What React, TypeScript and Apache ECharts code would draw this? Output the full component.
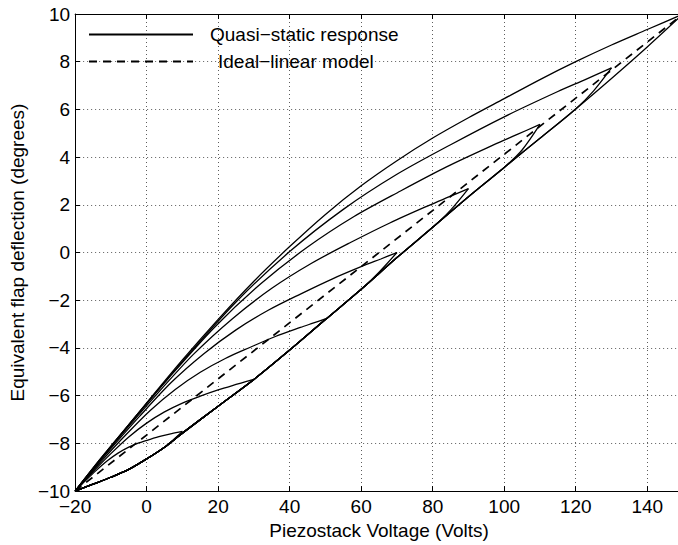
import React, { useEffect, useRef } from 'react';
import * as echarts from 'echarts';

// Common ascending (virgin) branch shared by every loop
const ascendVoltage = [-20, -15, -10, -5, 0, 5, 10, 20, 30, 40, 50, 60, 70, 80, 90, 100, 110, 120, 130, 140, 150];
const ascendDeflection = [-10, -9.71, -9.42, -9.09, -8.65, -8.16, -7.57, -6.44, -5.32, -4.09, -2.81, -1.54, -0.21, 1.06, 2.34, 3.57, 4.79, 6.02, 7.3, 8.62, 10];

// Loop tips
const peakVoltage = [10, 30, 50, 70, 90, 110, 130, 150];
const peakDeflection = [-7.5, -5.32, -2.78, 0.0, 2.68, 5.37, 7.74, 10];

// Small hook just before the tip of the larger loops
const hookVoltage = [NaN, NaN, NaN, 65, 85, 105, 125, NaN];
const hookDeflection = [NaN, NaN, NaN, -0.82, 1.78, 4.3, 6.78, NaN];

// Descending branches (tip back to -20 V)
const descending10 = [[10, -7.5], [7, -7.59], [4, -7.7], [1, -7.83], [-2, -7.97], [-5, -8.16], [-8, -8.41], [-11, -8.73], [-14, -9.12], [-17, -9.55], [-20, -10]];
const descending30 = [[30, -5.32], [27.5, -5.42], [25, -5.53], [20, -5.76], [15, -6.02], [10, -6.31], [5, -6.68], [0, -7.15], [-5, -7.73], [-10, -8.43], [-15, -9.19], [-20, -10]];
const descending50 = [[50, -2.78], [46.5, -2.96], [43, -3.14], [36, -3.52], [29, -3.97], [22, -4.44], [15, -5.02], [8, -5.74], [1, -6.62], [-6, -7.67], [-13, -8.8], [-16.5, -9.39], [-20, -10]];
const descending70 = [[70, 0], [65.5, -0.27], [61, -0.53], [52, -1.1], [43, -1.74], [34, -2.42], [25, -3.24], [16, -4.24], [7, -5.43], [-2, -6.87], [-11, -8.39], [-15.5, -9.18], [-20, -10]];
const descending90 = [[90, 2.68], [84.5, 2.33], [79, 1.98], [68, 1.24], [57, 0.42], [46, -0.46], [35, -1.5], [24, -2.77], [13, -4.28], [2, -6.08], [-9, -7.98], [-14.5, -8.97], [-20, -10]];
const descending110 = [[110, 5.37], [103.5, 4.94], [97, 4.51], [84, 3.6], [71, 2.58], [58, 1.51], [45, 0.23], [32, -1.3], [19, -3.13], [6, -5.29], [-7, -7.58], [-13.5, -8.76], [-20, -10]];
const descending130 = [[130, 7.74], [122.5, 7.24], [115, 6.75], [100, 5.69], [85, 4.52], [70, 3.28], [55, 1.81], [40, 0.04], [25, -2.07], [10, -4.56], [-5, -7.21], [-12.5, -8.57], [-20, -10]];
const descending150 = [[150, 10], [140, 9.35], [130, 8.7], [120, 8.0], [110, 7.25], [100, 6.45], [90, 5.65], [80, 4.8], [70, 3.85], [60, 2.8], [50, 1.6], [40, 0.25], [30, -1.2], [20, -2.8], [10, -4.5], [0, -6.3], [-10, -8.15], [-20, -10]];
const descendingBranches = [descending10, descending30, descending50, descending70, descending90, descending110, descending130, descending150];

// Ideal-linear model
const linearVoltage = [-20, 150];
const linearDeflection = [-10, 10];

const QUASI = 'Quasi\u2212static response';
const IDEAL = 'Ideal\u2212linear model';
const FONT = "'Liberation Sans', Arial, Helvetica, sans-serif";

const fmt = (v: number) => (v < 0 ? '\u2212' + Math.abs(v) : String(v));

export default function App() {
  const ref = useRef<HTMLDivElement>(null);
  useEffect(() => {
    document.body.style.margin = '0';
    document.body.style.overflow = 'hidden';
    if (!ref.current) return;
    const chart = echarts.init(ref.current, undefined, { renderer: 'svg' });

    const lineStyle = { color: '#000', width: 1.3, type: 'solid' as const };
    const itemStyle = { color: '#000' };
    const series: any[] = [];
    peakVoltage.forEach((vm, i) => {
      const hx = hookVoltage[i];
      const limit = isNaN(hx) ? vm : hx;
      const asc: number[][] = [];
      ascendVoltage.forEach((x, j) => {
        if (x < limit) asc.push([x, ascendDeflection[j]]);
      });
      if (!isNaN(hx)) asc.push([hx, hookDeflection[i]]);
      asc.push([vm, peakDeflection[i]]);
      series.push({
        name: QUASI, type: 'line', data: asc, symbol: 'none', showSymbol: false,
        smooth: 0.3, lineStyle, itemStyle, z: 3,
      });
      series.push({
        name: QUASI, type: 'line', data: descendingBranches[i], symbol: 'none', showSymbol: false,
        smooth: 0.3, lineStyle, itemStyle, z: 3,
      });
    });
    series.push({
      name: IDEAL, type: 'line', symbol: 'none', showSymbol: false,
      data: linearVoltage.map((x, i) => [x, linearDeflection[i]]),
      lineStyle: { color: '#000', width: 1.7, type: [8, 6] }, itemStyle, z: 4,
    });

    const axisLine = { show: true, onZero: false, lineStyle: { color: '#000', width: 1 } };
    const axisTick = { show: true, inside: true, length: 5, lineStyle: { color: '#000', width: 1 } };
    const splitLine = { show: true, lineStyle: { color: '#333', width: 0.8, type: [1, 3] } };
    const labelStyle = { color: '#000', fontFamily: FONT, fontSize: 19 };

    chart.setOption({
      animation: false,
      backgroundColor: '#fff',
      grid: { left: 72, right: 0, top: 14, bottom: 51, containLabel: false },
      legend: {
        show: true,
        orient: 'vertical',
        left: 88,
        top: 25,
        padding: 0,
        itemWidth: 104,
        itemHeight: 19,
        itemGap: 8,
        selectedMode: false,
        itemStyle: { opacity: 0 },
        textStyle: { color: '#000', fontFamily: FONT, fontSize: 19, padding: [0, 0, 0, 12] },
        data: [
          { name: QUASI },
          { name: IDEAL, textStyle: { padding: [0, 0, 0, 20] } },
        ],
      },
      xAxis: [
        {
          type: 'value', min: -20, max: 150, interval: 20, position: 'bottom',
          name: 'Piezostack Voltage (Volts)', nameLocation: 'middle', nameGap: 17,
          nameTextStyle: { ...labelStyle },
          axisLine, axisTick, splitLine,
          axisLabel: { ...labelStyle, margin: 6, formatter: fmt, showMaxLabel: false },
        },
        {
          type: 'value', min: -20, max: 150, interval: 20, position: 'top',
          axisLine, axisTick, splitLine: { show: false }, axisLabel: { show: false },
        },
      ],
      yAxis: [
        {
          type: 'value', min: -10, max: 10, interval: 2, position: 'left',
          name: 'Equivalent flap deflection (degrees)', nameLocation: 'middle', nameGap: 43,
          nameTextStyle: { ...labelStyle },
          axisLine, axisTick, splitLine,
          axisLabel: { ...labelStyle, margin: 5, formatter: fmt },
        },
        {
          type: 'value', min: -10, max: 10, interval: 2, position: 'right',
          axisLine, axisTick, splitLine: { show: false }, axisLabel: { show: false },
        },
      ],
      series,
    });
    return () => chart.dispose();
  }, []);
  return <div ref={ref} style={{ width: 683, height: 545 }} />;
}
